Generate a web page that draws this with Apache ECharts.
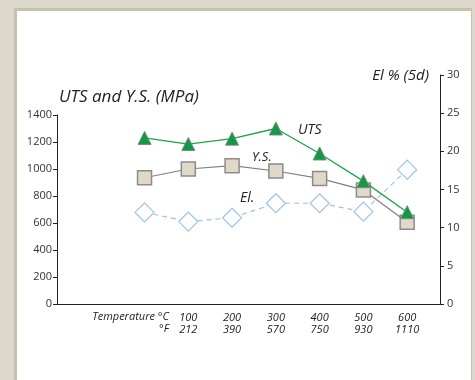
<!DOCTYPE html>
<html><head><meta charset="utf-8">
<script src="https://cdn.jsdelivr.net/npm/echarts@6/dist/echarts.min.js"></script>
<style>html,body{margin:0;padding:0;background:#dcd8cc;}#c{width:475px;height:380px;}</style>
</head><body><div id="c"></div>
<script>
const tempC = [0, 100, 200, 300, 400, 500, 600];
const tickC = [100, 200, 300, 400, 500, 600];
const tickF = ['212', '390', '570', '750', '930', '1110'];
const uts = [1230, 1185, 1225, 1300, 1115, 910, 680];
const ys = [935, 1000, 1025, 985, 930, 845, 605];
const el = [12.0, 10.8, 11.3, 13.2, 13.2, 12.1, 17.6];
const leftTicks = [0, 200, 400, 600, 800, 1000, 1200, 1400];
const rightTicks = [0, 5, 10, 15, 20, 25, 30];

const fMap = {};
tickC.forEach((c, i) => fMap[c] = tickF[i]);

const chart = echarts.init(document.getElementById('c'));
const ff = '"Open Sans", "Noto Sans", sans-serif';
const xAxisBase = {
  type: 'value', min: -200, max: 675, interval: 100,
  axisLine: { show: true, onZero: false, lineStyle: { color: '#222', width: 1 } },
  axisTick: { show: false }, splitLine: { show: false },
};
chart.setOption({
  animation: false,
  backgroundColor: '#dcd8cc',
  graphic: [
    { type: 'rect', shape: { x: 14, y: 8, width: 458, height: 380 }, style: { fill: '#c9c1a8' }, z: -10 },
    { type: 'rect', shape: { x: 17, y: 11, width: 454, height: 380 }, style: { fill: '#ffffff' }, z: -9 },
    { type: 'text', x: 59, y: 97, style: { text: 'UTS and Y.S. (MPa)', font: 'italic 17px ' + ff, fill: '#222', verticalAlign: 'middle' } },
    { type: 'text', x: 429, y: 76, style: { text: 'El % (5d)', font: 'italic 15px ' + ff, fill: '#222', align: 'right', verticalAlign: 'middle' } },
    { type: 'text', x: 298, y: 130, style: { text: 'UTS', font: 'italic 14px ' + ff, fill: '#222', verticalAlign: 'middle' } },
    { type: 'text', x: 252, y: 157, style: { text: 'Y.S.', font: 'italic 13px ' + ff, fill: '#222', verticalAlign: 'middle' } },
    { type: 'text', x: 240, y: 198, style: { text: 'El.', font: 'italic 14px ' + ff, fill: '#222', verticalAlign: 'middle' } },
    { type: 'text', x: 169, y: 317, style: { text: 'Temperature °C', font: 'italic 11px ' + ff, fill: '#222', align: 'right', verticalAlign: 'middle' } },
    { type: 'text', x: 169, y: 329, style: { text: '°F', font: 'italic 11px ' + ff, fill: '#222', align: 'right', verticalAlign: 'middle' } }
  ],
  grid: [
    { left: 57, right: 35, top: 115, bottom: 76 },
    { left: 57, right: 35, top: 75, bottom: 76 }
  ],
  xAxis: [
    Object.assign({}, xAxisBase, {
      gridIndex: 0,
      axisLabel: {
        showMaxLabel: false, showMinLabel: false, margin: 8,
        fontFamily: ff, fontSize: 11, fontStyle: 'italic', color: '#222', lineHeight: 12,
        formatter: v => fMap[v] ? (v + '\n' + fMap[v]) : ''
      }
    }),
    Object.assign({}, xAxisBase, { gridIndex: 1, axisLabel: { show: false }, axisLine: { show: false } })
  ],
  yAxis: [
    {
      type: 'value', gridIndex: 0, position: 'left', min: 0, max: 1400, interval: 200,
      axisLine: { show: true, onZero: false, lineStyle: { color: '#222' } },
      axisTick: { show: true, length: 4, lineStyle: { color: '#222' } },
      splitLine: { show: false },
      axisLabel: { fontFamily: ff, fontSize: 11, color: '#333', margin: 5, formatter: v => leftTicks.includes(v) ? String(v) : '' }
    },
    {
      type: 'value', gridIndex: 1, position: 'right', min: 0, max: 30, interval: 5,
      axisLine: { show: true, onZero: false, lineStyle: { color: '#222' } },
      axisTick: { show: true, inside: false, length: 4, lineStyle: { color: '#222' } },
      splitLine: { show: false },
      axisLabel: { fontFamily: ff, fontSize: 11, color: '#333', margin: 7, formatter: v => rightTicks.includes(v) ? String(v) : '' }
    }
  ],
  series: [
    {
      name: 'El.', type: 'line', xAxisIndex: 1, yAxisIndex: 1,
      data: tempC.map((t, i) => [t, el[i]]),
      symbol: 'diamond', symbolSize: 19,
      lineStyle: { color: '#9dc3e6', width: 1.2, type: [5, 4] },
      itemStyle: { color: '#ffffff', borderColor: '#9dc3e6', borderWidth: 1.2 },
      z: 2
    },
    {
      name: 'Y.S.', type: 'line', xAxisIndex: 0, yAxisIndex: 0,
      data: tempC.map((t, i) => [t, ys[i]]),
      symbol: 'rect', symbolSize: 14,
      lineStyle: { color: '#808080', width: 1.2 },
      itemStyle: { color: '#e0d9c8', borderColor: '#8c8c8c', borderWidth: 1.5 },
      z: 3
    },
    {
      name: 'UTS', type: 'line', xAxisIndex: 0, yAxisIndex: 0,
      data: tempC.map((t, i) => [t, uts[i]]),
      symbol: 'triangle', symbolSize: 13,
      lineStyle: { color: '#1aa64a', width: 1.3 },
      itemStyle: { color: '#0f9a45', borderColor: '#7a8a7a', borderWidth: 1 },
      z: 4
    }
  ]
});
</script></body></html>
